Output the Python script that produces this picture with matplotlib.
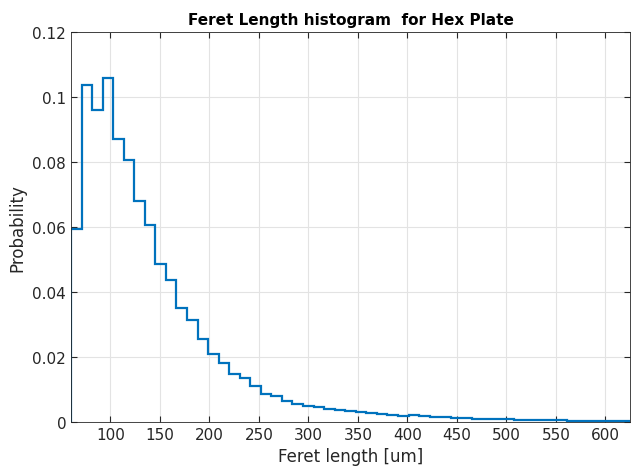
import matplotlib.pyplot as plt
import numpy as np

# bin edges and probabilities
start = 60.3
width = 10.65
probs = [0.0593, 0.1036, 0.0961, 0.1060, 0.0872, 0.0805, 0.0681, 0.0605, 0.0487, 0.0436,
         0.0352, 0.0314, 0.0254, 0.0210, 0.0182, 0.0148, 0.0135, 0.0110, 0.0087, 0.0080,
         0.0066, 0.0056, 0.0049, 0.0045, 0.0041, 0.0037, 0.0034, 0.0031, 0.0028, 0.0025,
         0.0022, 0.0020, 0.0022, 0.0018, 0.0016, 0.0015, 0.0013, 0.0011, 0.0010, 0.0009,
         0.0008, 0.0008, 0.0007, 0.0006, 0.0006, 0.0005, 0.0005, 0.0004, 0.0004, 0.0003,
         0.0003, 0.0003, 0.0003]
edges = start + width * np.arange(len(probs) + 1)

fig = plt.figure(figsize=(6.36, 4.77), dpi=100)
ax = fig.add_axes([71/636, 1 - 423/477, 559/636, 390/477])
ax.stairs(probs, edges, color='#0072BD', linewidth=1.6, baseline=0)
ax.set_xlim(edges[0], edges[-1])
ax.set_ylim(0, 0.12)
ax.set_xticks(np.arange(100, 601, 50))
ax.set_yticks(np.arange(0, 0.121, 0.02))
ax.set_yticklabels(['0', '0.02', '0.04', '0.06', '0.08', '0.1', '0.12'])
ax.grid(True, color='#e3e3e3', linewidth=0.8)
ax.set_axisbelow(True)
ax.tick_params(direction='in', labelsize=11, colors='#262626', top=True, right=True, length=4)
for s in ax.spines.values():
    s.set_color('#262626')
    s.set_linewidth(0.6)
ax.set_xlabel('Feret length [um]', fontsize=12, color='#262626')
ax.set_ylabel('Probability', fontsize=12, color='#262626')
ax.set_title('Feret Length histogram  for Hex Plate', fontsize=11, fontweight='bold')
fig.savefig('out.png')
